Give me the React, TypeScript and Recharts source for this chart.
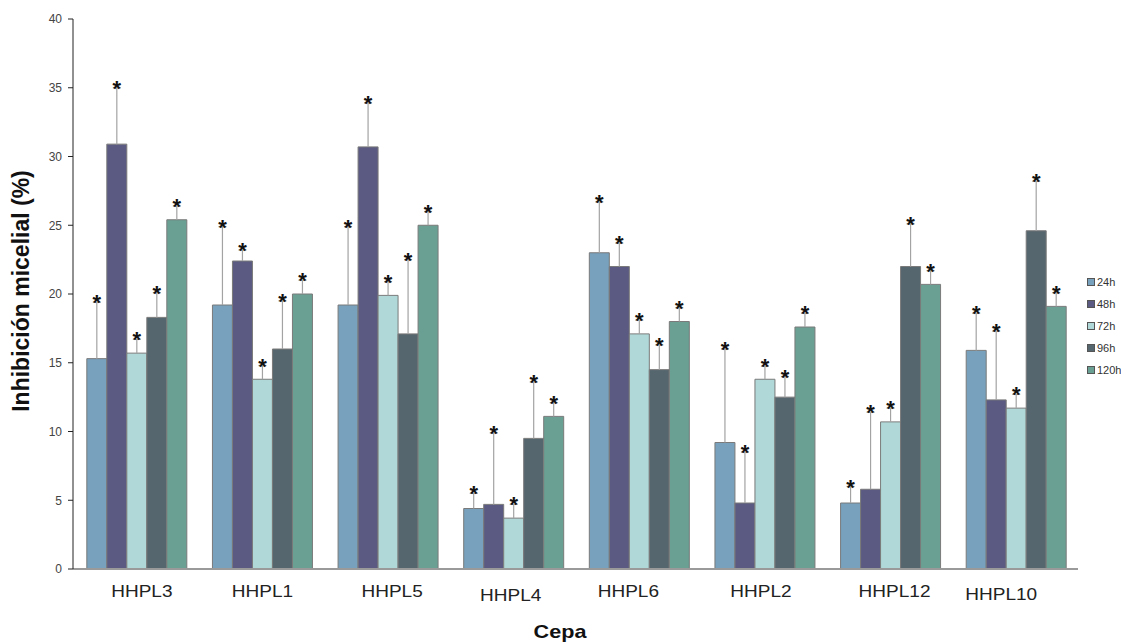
import React from 'react';
import { BarChart, Bar, XAxis, YAxis } from 'recharts';

const categories = ['HHPL3', 'HHPL1', 'HHPL5', 'HHPL4', 'HHPL6', 'HHPL2', 'HHPL12', 'HHPL10'];
const seriesNames = ['24h', '48h', '72h', '96h', '120h'];
const h24 = [15.3, 19.2, 19.2, 4.4, 23.0, 9.2, 4.8, 15.9];
const h48 = [30.9, 22.4, 30.7, 4.7, 22.0, 4.8, 5.8, 12.3];
const h72 = [15.7, 13.8, 19.9, 3.7, 17.1, 13.8, 10.7, 11.7];
const h96 = [18.3, 16.0, 17.1, 9.5, 14.5, 12.5, 22.0, 24.6];
const h120 = [25.4, 20.0, 25.0, 11.1, 18.0, 17.6, 20.7, 19.1];
const e24 = [4.1, 5.7, 5.7, 1.1, 3.7, 6.8, 1.2, 2.7];
const e48 = [4.1, 0.8, 3.2, 5.2, 1.7, 3.7, 5.6, 5.0];
const e72 = [1.0, 1.0, 1.0, 1.0, 1.0, 0.95, 1.0, 1.0];
const e96 = [1.8, 3.5, 5.4, 4.1, 1.8, 1.5, 3.1, 3.6];
const e120 = [1.0, 1.0, 1.0, 1.0, 1.0, 1.0, 1.0, 1.0];
const yTicks = [0, 5, 10, 15, 20, 25, 30, 35, 40];

const values = [h24, h48, h72, h96, h120];
const errors = [e24, e48, e72, e96, e120];
const colors = ['#77a1bd', '#5b5a82', '#b0d8d8', '#56666e', '#69a093'];

const data = categories.map((c, i) => {
  const row: any = { name: c };
  seriesNames.forEach((s, k) => {
    row['v' + k] = values[k][i];
    row['e' + k] = errors[k][i];
  });
  return row;
});

// small per-label nudges to mimic the original placement
const tickNudge: Record<string, [number, number]> = {
  HHPL3: [6, 0], HHPL1: [1, 0], HHPL5: [5, 0], HHPL4: [-2, 4],
  HHPL6: [-10, 0], HHPL2: [-3, 0], HHPL12: [5, 0], HHPL10: [-14, 3],
};

const font = '"Liberation Sans", Arial, sans-serif';

const XTick = (props: any) => {
  const { x, y, payload } = props;
  const n = tickNudge[payload.value] || [0, 0];
  const tx = x + n[0];
  const ty = y + 20 + n[1];
  return (
    <text
      transform={`translate(${tx},${ty}) scale(1.12,1)`}
      textAnchor="middle"
      fontFamily={font}
      fontSize={17}
      fill="#222"
    >
      {payload.value}
    </text>
  );
};

const ErrShape = (props: any) => {
  const { x, y, width, height } = props;
  if (x == null || y == null) return null;
  const cx = x + width / 2;
  return (
    <g>
      <line x1={cx} x2={cx} y1={y + height} y2={y} stroke="#a3a3a3" strokeWidth={1.2} />
      <line x1={cx - 4} x2={cx + 4} y1={y} y2={y} stroke="#a3a3a3" strokeWidth={1.2} />
      <text
        x={cx}
        y={y + 8}
        textAnchor="middle"
        fontFamily={font}
        fontWeight="bold"
        fontSize={22}
        fill="#111"
      >
        *
      </text>
    </g>
  );
};

const YLabel = () => (
  <text
    x={13}
    y={283}
    transform="rotate(-90 13 283)"
    textAnchor="middle"
    dominantBaseline="central"
    fontFamily={font}
    fontWeight="bold"
    fontSize={23}
    fill="#111"
  >
    Inhibición micelial (%)
  </text>
);

const XLabel = () => (
  <text
    transform="translate(552,630) scale(1.2,1)"
    textAnchor="middle"
    fontFamily={font}
    fontWeight="bold"
    fontSize={18}
    fill="#111"
  >
    Cepa
  </text>
);

export default function App() {
  return (
    <div style={{ position: 'relative', width: 1113, height: 634, background: '#fff' }}>
      <BarChart
        width={1113}
        height={634}
        data={data}
        margin={{ top: 11, right: 43, bottom: 0, left: 0 }}
        barCategoryGap="11%"
        barGap={0}
      >
        <XAxis
          dataKey="name"
          height={73}
          tick={<XTick />}
          tickLine={false}
          axisLine={{ stroke: '#9a9a9a', strokeWidth: 2 }}
          interval={0}
          label={<XLabel />}
        />
        <YAxis
          width={65}
          domain={[0, 40]}
          ticks={yTicks}
          interval={0}
          tickSize={5}
          tickMargin={6}
          tick={{ fontSize: 12, fill: '#444', fontFamily: font }}
          axisLine={{ stroke: '#222' }}
          tickLine={{ stroke: '#222' }}
          label={<YLabel />}
        />
        {seriesNames.map((s, k) => (
          <Bar
            key={'v' + k}
            dataKey={'v' + k}
            name={s}
            stackId={'s' + k}
            fill={colors[k]}
            stroke="#7a7a7a"
            strokeWidth={1}
            isAnimationActive={false}
          />
        ))}
        {seriesNames.map((s, k) => (
          <Bar
            key={'e' + k}
            dataKey={'e' + k}
            stackId={'s' + k}
            fill="none"
            legendType="none"
            shape={<ErrShape />}
            isAnimationActive={false}
          />
        ))}
      </BarChart>
      <div
        style={{
          position: 'absolute',
          left: 1079,
          top: 263,
          width: 34,
          whiteSpace: 'nowrap',
          fontFamily: font,
          fontSize: 11,
          color: '#333',
        }}
      >
        {seriesNames.map((s, k) => (
          <div key={s} style={{ display: 'flex', alignItems: 'center', height: 22 }}>
            <span
              style={{
                display: 'inline-block',
                flex: 'none',
                width: 6,
                height: 6,
                background: colors[k],
                border: '1px solid #555',
                marginRight: 2,
              }}
            />
            <span>{s}</span>
          </div>
        ))}
      </div>
    </div>
  );
}
